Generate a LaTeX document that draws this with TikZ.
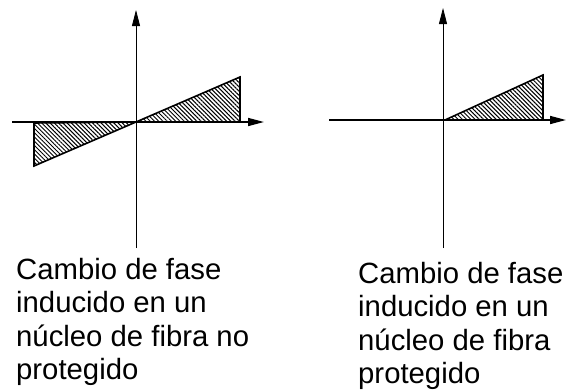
\documentclass[tikz,border=0pt]{standalone}
\usepackage{fontspec}
\setmainfont{Liberation Sans}
\usetikzlibrary{arrows.meta, patterns.meta, positioning}
\tikzstyle{axis} = [line width=1.2pt,-{Triangle[length=16pt,width=8pt]}]
\tikzstyle{shade} = [line width=1.6pt, pattern={Lines[angle=-45, distance=3pt, line width=1pt]}, line join=miter]
\tikzstyle{caption} = [anchor=north west, inner sep=0pt, align=left, font=\fontsize{29.3}{33.5}\selectfont]

\begin{document}
\begin{tikzpicture}[x=1pt, y=-1pt]
        \useasboundingbox (0,0) rectangle (567,391);
        % unprotected core
        \coordinate (o1) at (136,122);
        \coordinate (w1) at (12,122);
        \coordinate (e1) at (264,122);
        \coordinate (n1) at (136,10);
        \coordinate (s1) at (136,248);
        \draw [shade] (o1) -- (240,77) -- (240,122) -- cycle;
        \draw [shade] (o1) -- (34,166) -- (34,123) -- cycle;
        \draw [axis, line width=1.6pt] (w1) -- (e1);
        \draw [axis, line width=0.8pt] (s1) -- (n1);
        \node (cap1) [caption] at (16,258) {Cambio de fase\\inducido en un\\núcleo de fibra no\\protegido};

        % protected core
        \coordinate (o2) at (443,120);
        \coordinate (w2) at (329,120);
        \coordinate (e2) at (566,120);
        \coordinate (n2) at (443,8);
        \coordinate (s2) at (443,248);
        \draw [shade] (445,120) -- (543,75) -- (543,120) -- cycle;
        \draw [axis, line width=1.6pt] (w2) -- (e2);
        \draw [axis, line width=0.8pt] (s2) -- (n2);
        \node (cap2) [caption] at (358,262) {Cambio de fase\\inducido en un\\núcleo de fibra\\protegido};
    \end{tikzpicture}
\end{document}
